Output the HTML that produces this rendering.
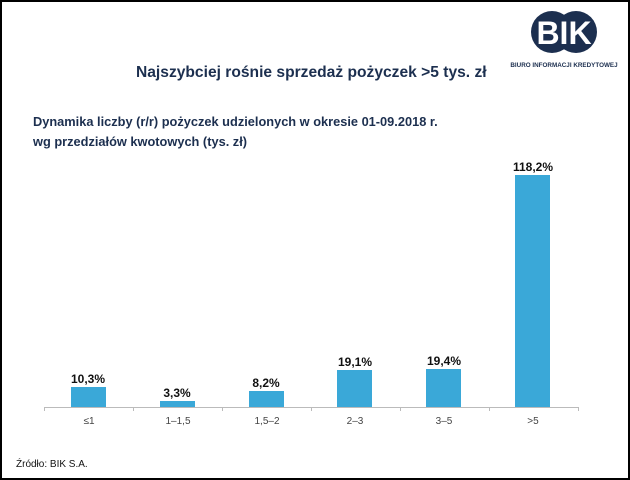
<!DOCTYPE html>
<html><head><style>
body{margin:0;width:630px;height:480px;overflow:hidden;background:#fff;font-family:"Liberation Sans",sans-serif}
.f{position:absolute;left:0;top:0;width:626px;height:476px;border:2px solid #000}
.t{position:absolute;white-space:nowrap}
</style></head><body>
<div class="f"></div>
<svg width="630" height="480" style="position:absolute;left:0;top:0">
<circle cx="552" cy="32" r="21" fill="#1c2f4f"/>
<circle cx="576" cy="32" r="21" fill="#1c2f4f"/>
<text x="564" y="44" font-family="Liberation Sans" font-weight="bold" font-size="32" fill="#fff" text-anchor="middle">BIK</text>
<text x="564" y="67" font-family="Liberation Sans" font-weight="bold" font-size="6.3" fill="#1c2f4f" text-anchor="middle">BIURO INFORMACJI KREDYTOWEJ</text>
<g fill="#3aa8d8">
<rect x="71" y="387" width="35" height="20"/>
<rect x="160" y="401" width="35" height="6"/>
<rect x="249" y="391" width="35" height="16"/>
<rect x="337" y="370" width="35" height="37"/>
<rect x="426" y="369" width="35" height="38"/>
<rect x="515" y="175" width="35" height="232"/>
</g>
<line x1="44" y1="407.5" x2="578" y2="407.5" stroke="#bbb"/>
<g stroke="#bbb"><line x1="44.5" y1="407" x2="44.5" y2="411"/><line x1="133.5" y1="407" x2="133.5" y2="411"/><line x1="222.5" y1="407" x2="222.5" y2="411"/><line x1="311.5" y1="407" x2="311.5" y2="411"/><line x1="400.5" y1="407" x2="400.5" y2="411"/><line x1="489.5" y1="407" x2="489.5" y2="411"/><line x1="578.5" y1="407" x2="578.5" y2="411"/></g>
<g font-family="Liberation Sans" font-weight="bold" font-size="12" fill="#111" text-anchor="middle">
<text x="88" y="383">10,3%</text><text x="177" y="397">3,3%</text><text x="266" y="387">8,2%</text>
<text x="355" y="366">19,1%</text><text x="444" y="365">19,4%</text><text x="533" y="171">118,2%</text>
</g>
<g font-family="Liberation Sans" font-size="10" fill="#444" text-anchor="middle">
<text x="89" y="424">≤1</text><text x="178" y="424">1–1,5</text><text x="267" y="424">1,5–2</text>
<text x="355" y="424">2–3</text><text x="444" y="424">3–5</text><text x="533" y="424">&gt;5</text>
</g>
</svg>
<div class="t" style="left:136px;top:64px;font-size:15.6px;font-weight:bold;color:#1c2f4f">Najszybciej rośnie sprzedaż pożyczek &gt;5 tys. zł</div>
<div class="t" style="left:33px;top:112px;font-size:12.8px;font-weight:bold;color:#1c2f4f;line-height:20px">Dynamika liczby (r/r) pożyczek udzielonych w okresie 01-09.2018 r.<br>wg przedziałów kwotowych (tys. zł)</div>
<div class="t" style="left:16px;top:459px;font-size:10px;color:#111">Źródło: BIK S.A.</div>
</body></html>
